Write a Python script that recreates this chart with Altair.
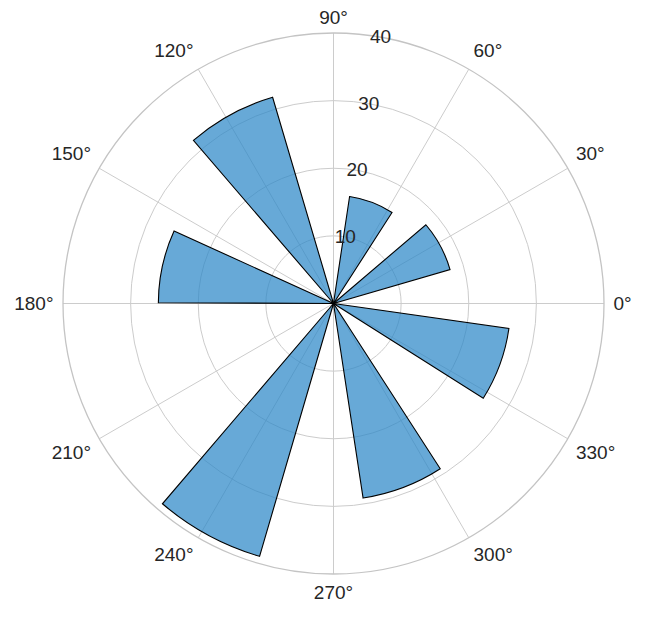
import math
import altair as alt
import pandas as pd

# ---- data (degrees, radial units) ----
bar_angles = [28.35, 69.35, 118.55, 167.65, 241.6, 290.75, 339.8]   # bar centres
bar_values = [17.95, 16.0, 31.8, 25.9, 38.95, 29.1, 26.2]          # bar heights
bar_width_deg = 24.2
theta_ticks = list(range(0, 360, 30))
theta_labels = [f"{a}°" for a in theta_ticks]
r_ticks = [10, 20, 30, 40]
r_label_angle = 80
r_max = 40

# ---- layout ----
R_PX = 270.5
W = H = 560
K = R_PX / r_max
DX = W / 2 / K
DY = H / 2 / K
LABEL_R = 280.0 / K

FONT = "Liberation Sans"
TEXT_COLOR = "#262626"
GRID = "#cccccc"

theta_scale = alt.Scale(domain=[0, 360], range=[math.pi / 2, math.pi / 2 - 2 * math.pi])
radius_scale = alt.Scale(type="linear", domain=[0, r_max], range=[0, R_PX], zero=True)
xs = alt.Scale(domain=[-DX, DX], nice=False, zero=False)
ys = alt.Scale(domain=[-DY, DY], nice=False, zero=False)

bars = pd.DataFrame({"angle": bar_angles, "value": bar_values})
rings = pd.DataFrame({"r": r_ticks[:-1]})
spine = pd.DataFrame({"r": [r_max]})
spokes = pd.DataFrame({"angle": theta_ticks, "label": theta_labels})
rlab = pd.DataFrame({"r": r_ticks, "label": [str(v) for v in r_ticks]})

ring_layer = alt.Chart(rings).transform_calculate(t1="0", t2="360").mark_arc(
    filled=False, stroke=GRID, strokeWidth=1
).encode(
    theta=alt.Theta("t1:Q", scale=theta_scale, stack=None),
    theta2="t2:Q",
    radius=alt.Radius("r:Q", scale=radius_scale),
)

spoke_layer = alt.Chart(spokes).transform_calculate(
    x0="0", y0="0",
    x1=f"{r_max}*cos(datum.angle*PI/180)",
    y1=f"{r_max}*sin(datum.angle*PI/180)",
).mark_rule(stroke=GRID, strokeWidth=1).encode(
    x=alt.X("x0:Q", scale=xs, axis=None),
    y=alt.Y("y0:Q", scale=ys, axis=None),
    x2="x1:Q",
    y2="y1:Q",
)

spine_layer = alt.Chart(spine).transform_calculate(t1="0", t2="360").mark_arc(
    filled=False, stroke="#c4c4c4", strokeWidth=1.3
).encode(
    theta=alt.Theta("t1:Q", scale=theta_scale, stack=None),
    theta2="t2:Q",
    radius=alt.Radius("r:Q", scale=radius_scale),
)

bar_layer = alt.Chart(bars).transform_calculate(
    t1=f"datum.angle - {bar_width_deg / 2}",
    t2=f"datum.angle + {bar_width_deg / 2}",
).mark_arc(fill="#2d88c8", fillOpacity=0.72, stroke="black", strokeWidth=1.1).encode(
    theta=alt.Theta("t1:Q", scale=theta_scale, stack=None),
    theta2="t2:Q",
    radius=alt.Radius("value:Q", scale=radius_scale),
)

label_base = alt.Chart(spokes).transform_calculate(
    c="cos(datum.angle*PI/180)",
    s="sin(datum.angle*PI/180)",
).transform_calculate(
    lx=f"{LABEL_R}*datum.c",
    ly=f"{LABEL_R}*datum.s",
    ha="datum.c > 0.01 ? 'left' : (datum.c < -0.01 ? 'right' : 'center')",
    va="datum.s > 0.01 ? 'bottom' : (datum.s < -0.01 ? 'top' : 'middle')",
)

label_layers = []
for ha in ["left", "center", "right"]:
    for va in ["top", "middle", "bottom"]:
        extra = {"dy": 4} if (ha == "center" and va == "bottom") else {}
        label_layers.append(
            label_base.transform_filter(f"datum.ha == '{ha}' && datum.va == '{va}'")
            .mark_text(align=ha, baseline=va, font=FONT, fontSize=19, color=TEXT_COLOR, **extra)
            .encode(
                x=alt.X("lx:Q", scale=xs, axis=None),
                y=alt.Y("ly:Q", scale=ys, axis=None),
                text="label:N",
            )
        )

rlab_layer = alt.Chart(rlab).transform_calculate(
    lx=f"datum.r*cos({r_label_angle}*PI/180)",
    ly=f"datum.r*sin({r_label_angle}*PI/180)",
).mark_text(align="center", baseline="middle", font=FONT, fontSize=19, color=TEXT_COLOR).encode(
    x=alt.X("lx:Q", scale=xs, axis=None),
    y=alt.Y("ly:Q", scale=ys, axis=None),
    text="label:N",
)

chart = alt.layer(
    ring_layer, spoke_layer, spine_layer, bar_layer, *label_layers, rlab_layer
).properties(
    width=W,
    height=H,
    padding={"left": 45.5, "top": 15.5, "right": 30, "bottom": 25},
    autosize=alt.AutoSizeParams(type="none"),
).configure_view(stroke=None)

chart.save("out.html", embed_options={"renderer": "svg", "actions": False})
